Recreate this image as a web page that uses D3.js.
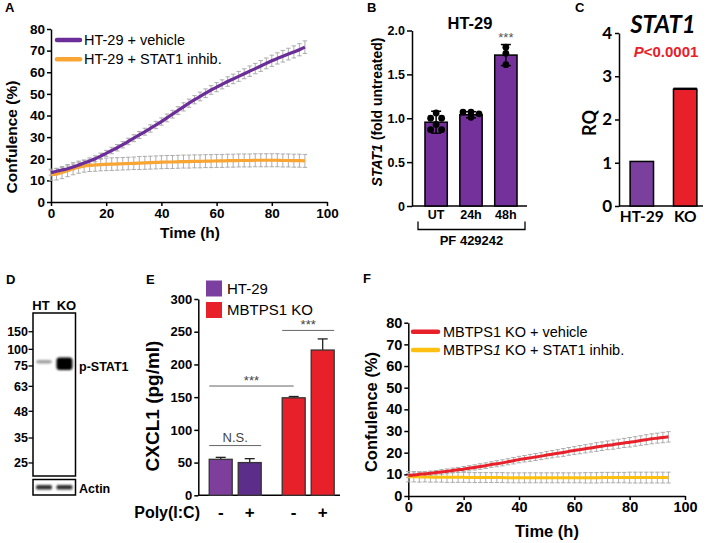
<!DOCTYPE html>
<html><head><meta charset="utf-8">
<script src="https://cdn.jsdelivr.net/npm/d3@7"></script>
<style>
body{margin:0;background:#fff;}
svg{display:block;font-family:"Liberation Sans",Arial,sans-serif;}
</style></head><body>
<svg id="fig" width="708" height="543"></svg>
<script>
// ---------- Panel A data ----------
const timeA = [0,2,4,6,8,10,12,14,16,18,20,22,24,26,28,30,32,34,36,38,40,42,44,46,48,50,52,54,56,58,60,62,64,66,68,70,72,74,76,78,80,82,84,86,88,90,92];
const vehicleA = [13.6,14.2,14.8,15.4,16.2,17.1,18.0,19.0,20.0,21.2,22.5,23.8,25.1,26.5,28.0,29.5,31.0,32.5,34.0,35.6,37.2,38.9,40.6,42.3,44.0,45.7,47.3,48.8,50.3,51.8,53.1,54.4,55.7,56.9,58.1,59.3,60.5,61.7,62.9,64.1,65.3,66.4,67.4,68.4,69.4,70.4,71.6];
const vehicleErrA = [1.2,1.2,1.2,1.3,1.3,1.3,1.3,1.4,1.4,1.4,1.4,1.5,1.5,1.5,1.5,1.6,1.6,1.6,1.7,1.7,1.7,1.8,1.8,1.8,1.9,1.9,1.9,2.0,2.0,2.0,2.1,2.1,2.2,2.2,2.3,2.3,2.4,2.4,2.5,2.5,2.6,2.6,2.7,2.7,2.8,2.8,2.9];
const inhibA = [12.6,12.9,13.6,14.5,15.4,16.1,16.6,16.9,17.1,17.3,17.4,17.5,17.6,17.7,17.8,17.9,18.0,18.1,18.2,18.3,18.4,18.5,18.5,18.6,18.7,18.7,18.8,18.8,18.9,18.9,19.0,19.0,19.1,19.1,19.2,19.2,19.2,19.3,19.3,19.3,19.3,19.3,19.2,19.2,19.1,19.1,19.0];
const inhibErrA = [2.6,2.7,2.8,2.8,2.8,2.8,2.8,2.8,2.9,2.9,2.9,2.9,2.9,2.9,2.9,2.9,3.0,3.0,3.0,3.0,3.0,3.0,3.0,3.0,3.0,3.0,3.0,3.0,3.0,3.0,3.0,3.0,3.0,3.0,3.0,3.0,3.0,3.0,3.0,3.0,3.0,3.0,3.0,3.0,3.0,3.0,3.0];
const seriesA = ["HT-29 + vehicle", "HT-29 + STAT1 inhib."];
const xTicksA = [0,20,40,60,80,100];
const yTicksA = [0,10,20,30,40,50,60,70,80];

// ---------- Panel B data ----------
const catsB = ["UT","24h","48h"];
const meanB = [0.955,1.04,1.72];
const sdB = [0.125,0.035,0.12];
const dotsB = [[1.06,1.0,1.0,0.93,0.87,0.87],[1.07,1.07,1.05,1.01],[1.81,1.74,1.61]];
const yTicksB = [0,0.5,1.0,1.5,2.0];

// ---------- Panel C data ----------
const catsC = ["HT-29","KO"];
const valC = [1.03,2.70];
const errC = [0,0.02];
const yTicksC = [0,1,2,3,4];

// ---------- Panel D data ----------
const lanesD = ["HT","KO"];
const markerKDa = [150,100,75,63,48,35,25];
const markerRf = [0.115,0.223,0.325,0.45,0.603,0.767,0.92];
const pSTAT1Intensity = [0.3,1.0];
const actinIntensity = [0.85,0.85];
const bandKDa = 78;

// ---------- Panel E data ----------
const groupsE = ["HT-29","MBTPS1 KO"];
const polyIC = ["-","+"];
const valE = [[55,50],[149,222]];
const errE = [[3,6],[2,17]];
const yTicksE = [0,50,100,150,200,250,300];

// ---------- Panel F data ----------
const timeF = [0,2,4,6,8,10,12,14,16,18,20,22,24,26,28,30,32,34,36,38,40,42,44,46,48,50,52,54,56,58,60,62,64,66,68,70,72,74,76,78,80,82,84,86,88,90,92,94];
const vehicleF = [9.5,9.7,10.0,10.2,10.5,10.8,11.1,11.4,11.8,12.1,12.4,12.8,13.2,13.6,14.0,14.5,14.9,15.3,15.8,16.3,16.8,17.2,17.6,18.0,18.4,18.9,19.3,19.7,20.1,20.6,21.0,21.4,21.8,22.2,22.6,23.0,23.4,23.7,24.1,24.5,24.8,25.2,25.6,26.0,26.4,26.7,27.0,27.3];
const vehicleErrF = [0.9,0.9,1.0,1.0,1.0,1.0,1.1,1.1,1.1,1.1,1.2,1.2,1.2,1.3,1.3,1.3,1.4,1.4,1.4,1.5,1.5,1.5,1.6,1.6,1.6,1.7,1.7,1.7,1.8,1.8,1.8,1.9,1.9,1.9,2.0,2.0,2.0,2.1,2.1,2.1,2.2,2.2,2.2,2.3,2.3,2.3,2.4,2.4];
const inhibF = [8.9,8.9,8.8,8.8,8.7,8.7,8.7,8.6,8.6,8.6,8.6,8.5,8.5,8.5,8.5,8.5,8.5,8.5,8.4,8.4,8.4,8.4,8.4,8.4,8.4,8.4,8.4,8.4,8.4,8.4,8.4,8.4,8.4,8.4,8.4,8.5,8.5,8.5,8.5,8.5,8.5,8.5,8.5,8.5,8.5,8.5,8.5,8.5];
const inhibErrF = [2.4,2.4,2.4,2.3,2.3,2.3,2.3,2.3,2.3,2.3,2.3,2.3,2.3,2.3,2.3,2.3,2.3,2.3,2.3,2.3,2.3,2.3,2.3,2.3,2.3,2.3,2.3,2.3,2.3,2.3,2.3,2.3,2.4,2.4,2.4,2.4,2.4,2.4,2.4,2.4,2.5,2.5,2.5,2.5,2.5,2.5,2.5,2.5];
const xTicksF = [0,20,40,60,80,100];
const yTicksF = [0,10,20,30,40,50,60,70,80];

// ---------- colours ----------
const PURPLE = "#6b2d98", ORANGE = "#f9a534", RED = "#e8202a", YELLOW = "#fdc010", GREY = "#a5a5a5";

const svg = d3.select("#fig");
const defs = svg.append("defs");
defs.append("filter").attr("id","blur").attr("x","-50%").attr("y","-100%").attr("width","200%").attr("height","300%")
  .append("feGaussianBlur").attr("stdDeviation",0.9);

function styleAxis(g, fs, family){
  g.select(".domain").attr("stroke","#000").attr("stroke-width",1.5);
  g.selectAll(".tick line").attr("stroke","#000").attr("stroke-width",1.5);
  g.selectAll(".tick text").attr("fill","#000").attr("font-size",fs).attr("font-weight","bold");
  if (family) g.selectAll(".tick text").attr("font-family",family);
}
function panelLabel(t,x,y){
  svg.append("text").attr("x",x).attr("y",y).attr("font-size",13).attr("font-weight","bold").text(t);
}
function errorBars(g, xs, ys, es, x, y, capW, color, sw){
  const gg = g.append("g").attr("stroke",color).attr("stroke-width",sw).attr("fill","none");
  xs.forEach((t,i)=>{
    const cx = x(t), y1 = y(ys[i]-es[i]), y2 = y(ys[i]+es[i]);
    gg.append("line").attr("x1",cx).attr("x2",cx).attr("y1",y1).attr("y2",y2);
    gg.append("line").attr("x1",cx-capW/2).attr("x2",cx+capW/2).attr("y1",y1).attr("y2",y1);
    gg.append("line").attr("x1",cx-capW/2).attr("x2",cx+capW/2).attr("y1",y2).attr("y2",y2);
  });
}

// ================= Panel A =================
(function(){
  const x = d3.scaleLinear().domain([0,100]).range([51,327]);
  const y = d3.scaleLinear().domain([0,80]).range([202,29]);
  const g = svg.append("g");
  g.append("g").attr("transform","translate(0,202)")
    .call(d3.axisBottom(x).tickValues(xTicksA).tickSize(4).tickSizeOuter(0).tickPadding(2))
    .call(a=>styleAxis(a,13.5));
  g.append("g").attr("transform","translate(51,0)")
    .call(d3.axisLeft(y).tickValues(yTicksA).tickSize(4).tickSizeOuter(0).tickPadding(2))
    .call(a=>styleAxis(a,13.5));
  errorBars(g, timeA, vehicleA, vehicleErrA, x, y, 4.5, GREY, 0.9);
  errorBars(g, timeA, inhibA, inhibErrA, x, y, 4.5, GREY, 0.9);
  const line = d3.line().x((d,i)=>x(timeA[i])).y(d=>y(d)).curve(d3.curveMonotoneX);
  g.append("path").datum(inhibA).attr("d",line).attr("fill","none").attr("stroke",ORANGE).attr("stroke-width",3.2);
  g.append("path").datum(vehicleA).attr("d",line).attr("fill","none").attr("stroke",PURPLE).attr("stroke-width",3.2);
  // legend
  const cols = [PURPLE, ORANGE];
  seriesA.forEach((s,i)=>{
    const ly = 40 + i*19.3;
    g.append("line").attr("x1",57).attr("x2",80).attr("y1",ly).attr("y2",ly).attr("stroke",cols[i]).attr("stroke-width",4.5).attr("stroke-linecap","round");
    g.append("text").attr("x",84).attr("y",ly+5).attr("font-size",14.5).text(s);
  });
  g.append("text").attr("transform","translate(17,137) rotate(-90)").attr("text-anchor","middle")
    .attr("font-size",15.5).attr("font-weight","bold").text("Confulence (%)");
  g.append("text").attr("x",190).attr("y",238).attr("text-anchor","middle").attr("font-size",15.5).attr("font-weight","bold").text("Time (h)");
  panelLabel("A",5,12);
})();

// ================= Panel B =================
(function(){
  const x = d3.scaleBand().domain(catsB).range([418,524]).paddingInner(0.36).paddingOuter(0.2);
  const y = d3.scaleLinear().domain([0,2]).range([206,30.5]);
  const g = svg.append("g");
  g.append("g").attr("transform","translate(412,0)")
    .call(d3.axisLeft(y).tickValues(yTicksB).tickSize(5).tickSizeOuter(0).tickPadding(2).tickFormat(d=>d===0?"0":d3.format(".1f")(d)))
    .call(a=>styleAxis(a,12.5));
  g.append("line").attr("x1",412).attr("x2",527).attr("y1",206).attr("y2",206).attr("stroke","#000").attr("stroke-width",1.5);
  g.selectAll("rect.bar").data(catsB).join("rect")
    .attr("x",d=>x(d)).attr("width",x.bandwidth()).attr("y",(d,i)=>y(meanB[i])).attr("height",(d,i)=>y(0)-y(meanB[i]))
    .attr("fill","#74309b").attr("stroke","#000").attr("stroke-width",1.5);
  // error bars
  catsB.forEach((c,i)=>{
    const cx = x(c)+x.bandwidth()/2;
    const y1 = y(meanB[i]-sdB[i]), y2 = y(meanB[i]+sdB[i]);
    g.append("line").attr("x1",cx).attr("x2",cx).attr("y1",y1).attr("y2",y2).attr("stroke","#000").attr("stroke-width",1.5);
    [y1,y2].forEach(yy=>g.append("line").attr("x1",cx-5).attr("x2",cx+5).attr("y1",yy).attr("y2",yy).attr("stroke","#000").attr("stroke-width",1.5));
    // dots with symmetric dodge for near-equal values
    const vals = dotsB[i].slice().sort((a,b)=>b-a);
    const clusters = [];
    vals.forEach(v=>{
      const last = clusters[clusters.length-1];
      if (last && Math.abs(last[last.length-1]-v) < 0.035) last.push(v); else clusters.push([v]);
    });
    clusters.forEach(cl=>{
      cl.forEach((v,k)=>{
        const off = (k-(cl.length-1)/2)*(cl.length>2?8:11);
        g.append("circle").attr("cx",cx+off).attr("cy",y(v)).attr("r",3.4).attr("fill","#000");
      });
    });
  });
  g.append("text").attr("x",x("48h")+x.bandwidth()/2).attr("y",42).attr("text-anchor","middle").attr("font-size",13).attr("fill","#555").text("***");
  g.selectAll("text.xl").data(catsB).join("text").attr("x",d=>x(d)+x.bandwidth()/2).attr("y",219)
    .attr("text-anchor","middle").attr("font-size",12.5).attr("font-weight","bold").text(d=>d);
  g.append("path").attr("d",`M418,221.5V229.5H525V221.5`).attr("fill","none").attr("stroke","#000").attr("stroke-width",1.3);
  g.append("text").attr("x",471.5).attr("y",245).attr("text-anchor","middle").attr("font-size",13).attr("font-weight","bold").text("PF 429242");
  g.append("text").attr("x",470).attr("y",29).attr("text-anchor","middle").attr("font-size",16.5).attr("font-weight","bold").text("HT-29");
  const yl = g.append("text").attr("transform","translate(382,112) rotate(-90)").attr("text-anchor","middle").attr("font-size",14).attr("font-weight","bold");
  yl.append("tspan").attr("font-style","italic").text("STAT1");
  yl.append("tspan").text(" (fold untreated)");
  panelLabel("B",367,12);
})();

// ================= Panel C =================
(function(){
  const FAM = "Lato, 'Liberation Sans', sans-serif";
  const x = d3.scaleBand().domain(catsC).range([621,706]).paddingInner(0.46).paddingOuter(0.21);
  const y = d3.scaleLinear().domain([0,4]).range([206,33]);
  const g = svg.append("g");
  g.append("g").attr("transform","translate(619,0)")
    .call(d3.axisLeft(y).tickValues(yTicksC).tickSize(4).tickSizeOuter(0).tickPadding(3).tickFormat(d3.format("d")))
    .call(a=>styleAxis(a,17,FAM));
  g.append("line").attr("x1",619).attr("x2",703).attr("y1",206).attr("y2",206).attr("stroke","#000").attr("stroke-width",1.5);
  const cols = ["#7b3f9e", RED];
  g.selectAll("rect").data(catsC).join("rect")
    .attr("x",d=>x(d)).attr("width",x.bandwidth()).attr("y",(d,i)=>y(valC[i])).attr("height",(d,i)=>y(0)-y(valC[i]))
    .attr("fill",(d,i)=>cols[i]).attr("stroke","#000").attr("stroke-width",1.5);
  catsC.forEach((c,i)=>{
    if (errC[i]>0){
      g.append("line").attr("x1",x(c)).attr("x2",x(c)+x.bandwidth()).attr("y1",y(valC[i]+errC[i])).attr("y2",y(valC[i]+errC[i])).attr("stroke","#000").attr("stroke-width",1.5);
    }
  });
  g.selectAll("text.xl").data(catsC).join("text").attr("x",d=>x(d)+x.bandwidth()/2).attr("y",222)
    .attr("text-anchor","middle").attr("font-size",15.5).attr("font-weight","bold").attr("font-family",FAM).text(d=>d);
  g.append("text").attr("transform","translate(596,123) rotate(-90)").attr("text-anchor","middle")
    .attr("font-size",18).attr("font-weight","bold").attr("font-family",FAM).text("RQ");
  g.append("text").attr("x",663).attr("y",33).attr("text-anchor","middle").attr("font-size",24).attr("font-weight","bold").attr("font-style","italic").attr("font-family",FAM).text("STAT1");
  const p = g.append("text").attr("x",666).attr("y",57).attr("text-anchor","middle").attr("font-size",15).attr("font-weight","bold").attr("fill",RED);
  p.append("tspan").attr("font-style","italic").text("P");
  p.append("tspan").text("<0.0001");
  panelLabel("C",575,12);
})();

// ================= Panel D =================
(function(){
  const g = svg.append("g");
  const x = d3.scaleBand().domain(lanesD).range([33,75.5]).paddingInner(0.12).paddingOuter(0.1);
  const yRf = d3.scaleLinear().domain([0,1]).range([313,476]);
  const yMW = d3.scaleLog().domain(markerKDa).range(markerRf.map(r=>yRf(r)));
  g.append("rect").attr("x",33).attr("y",313).attr("width",42.5).attr("height",163).attr("fill","#fff").attr("stroke","#000").attr("stroke-width",1.5);
  // p-STAT1 bands
  lanesD.forEach((l,i)=>{
    const h = 2.5 + 10*pSTAT1Intensity[i]*pSTAT1Intensity[i];
    g.append("rect").attr("x",x(l)+1).attr("width",x.bandwidth()-2).attr("y",yMW(bandKDa)-h/2 - (i===0?2:0)).attr("height",h)
      .attr("rx",3).attr("fill",d3.interpolateGreys(0.25+0.75*pSTAT1Intensity[i])).attr("filter","url(#blur)");
  });
  // markers
  markerKDa.forEach(k=>{
    g.append("line").attr("x1",28.5).attr("x2",33).attr("y1",yMW(k)).attr("y2",yMW(k)).attr("stroke","#000").attr("stroke-width",1.3);
    g.append("text").attr("x",28).attr("y",yMW(k)+4.3).attr("text-anchor","end").attr("font-size",12.5).attr("font-weight","bold").text(k);
  });
  lanesD.forEach((l,i)=>{
    g.append("text").attr("x",x(l)+x.bandwidth()/2+(i===0?-3:2)).attr("y",310).attr("text-anchor","middle").attr("font-size",13).attr("font-weight","bold").text(l);
  });
  g.append("text").attr("x",79).attr("y",371).attr("font-size",12.5).attr("font-weight","bold").text("p-STAT1");
  // actin
  g.append("rect").attr("x",33).attr("y",479.5).attr("width",42.5).attr("height",15.5).attr("fill","#fff").attr("stroke","#000").attr("stroke-width",1.5);
  lanesD.forEach((l,i)=>{
    g.append("rect").attr("x",x(l)+1).attr("width",x.bandwidth()-2).attr("y",485).attr("height",4.5).attr("rx",1.5)
      .attr("fill",d3.interpolateGreys(actinIntensity[i])).attr("filter","url(#blur)");
  });
  g.append("text").attr("x",79).attr("y",492.5).attr("font-size",12.5).attr("font-weight","bold").text("Actin");
  panelLabel("D",6,284);
})();

// ================= Panel E =================
(function(){
  const g = svg.append("g");
  const xo = d3.scaleBand().domain(groupsE).range([206.3,337.1]).paddingInner(0.2877).paddingOuter(0.04);
  const xi = d3.scaleBand().domain(polyIC).range([0,xo.bandwidth()]).paddingInner(0.207);
  const y = d3.scaleLinear().domain([0,300]).range([495.3,299]);
  g.append("g").attr("transform","translate(198.3,0)")
    .call(d3.axisLeft(y).tickValues(yTicksE).tickSize(4).tickSizeOuter(0).tickPadding(2))
    .call(a=>styleAxis(a,13));
  g.append("line").attr("x1",198.3).attr("x2",340).attr("y1",495.3).attr("y2",495.3).attr("stroke","#000").attr("stroke-width",1.5);
  const fills = [["#7d3f9b","#5c2d8a"],[RED,RED]];
  const bx = (gi,pi)=>xo(groupsE[gi])+xi(polyIC[pi]);
  groupsE.forEach((gr,gi)=>polyIC.forEach((p,pi)=>{
    const v = valE[gi][pi], e = errE[gi][pi];
    const cx = bx(gi,pi)+xi.bandwidth()/2;
    g.append("line").attr("x1",cx).attr("x2",cx).attr("y1",y(v)).attr("y2",y(v+e)).attr("stroke","#222").attr("stroke-width",1.3);
    g.append("line").attr("x1",cx-5).attr("x2",cx+5).attr("y1",y(v+e)).attr("y2",y(v+e)).attr("stroke","#222").attr("stroke-width",1.3);
    g.append("rect").attr("x",bx(gi,pi)).attr("width",xi.bandwidth()).attr("y",y(v)).attr("height",y(0)-y(v))
      .attr("fill",fills[gi][pi]).attr("stroke","#333").attr("stroke-width",1.3);
    g.append("text").attr("x",cx).attr("y",518).attr("text-anchor","middle").attr("font-size",17).attr("font-weight","bold").text(p);
  }));
  // significance
  const sig = [
    {x1:bx(0,0), x2:bx(0,1)+xi.bandwidth(), level:76, label:"N.S."},
    {x1:bx(0,0), x2:bx(1,0)+xi.bandwidth()/2, level:167, label:"***"},
    {x1:bx(1,0), x2:bx(1,1)+xi.bandwidth(), level:252, label:"***"}
  ];
  sig.forEach(s=>{
    g.append("line").attr("x1",s.x1).attr("x2",s.x2).attr("y1",y(s.level)).attr("y2",y(s.level)).attr("stroke","#666").attr("stroke-width",1);
    g.append("text").attr("x",(s.x1+s.x2)/2).attr("y",y(s.level)-(s.label==="***"?1:3.5)).attr("text-anchor","middle")
      .attr("font-size",13).attr("fill","#444").text(s.label);
  });
  // legend
  const lc = ["#7b3fa0", RED];
  groupsE.forEach((gr,i)=>{
    g.append("rect").attr("x",206).attr("y",280.5+i*21.5).attr("width",16).attr("height",16).attr("fill",lc[i]);
    g.append("text").attr("x",227).attr("y",293.5+i*21.5).attr("font-size",15).text(gr);
  });
  g.append("text").attr("x",200).attr("y",518).attr("text-anchor","end").attr("font-size",16).attr("font-weight","bold").text("Poly(I:C)");
  g.append("text").attr("transform","translate(159,406) rotate(-90)").attr("text-anchor","middle").attr("font-size",19).attr("font-weight","bold").text("CXCL1 (pg/ml)");
  panelLabel("E",146,284);
})();

// ================= Panel F =================
(function(){
  const x = d3.scaleLinear().domain([0,100]).range([408.3,685]);
  const y = d3.scaleLinear().domain([0,80]).range([496,322.7]);
  const g = svg.append("g");
  g.append("g").attr("transform","translate(0,496)")
    .call(d3.axisBottom(x).tickValues(xTicksF).tickSize(4).tickSizeOuter(0).tickPadding(2))
    .call(a=>styleAxis(a,14.5));
  g.append("g").attr("transform","translate(408.3,0)")
    .call(d3.axisLeft(y).tickValues(yTicksF).tickSize(4).tickSizeOuter(0).tickPadding(2))
    .call(a=>styleAxis(a,14.5));
  errorBars(g, timeF, vehicleF, vehicleErrF, x, y, 4.5, GREY, 0.9);
  errorBars(g, timeF, inhibF, inhibErrF, x, y, 4.5, GREY, 0.9);
  const line = d3.line().x((d,i)=>x(timeF[i])).y(d=>y(d)).curve(d3.curveMonotoneX);
  g.append("path").datum(inhibF).attr("d",line).attr("fill","none").attr("stroke",YELLOW).attr("stroke-width",3);
  g.append("path").datum(vehicleF).attr("d",line).attr("fill","none").attr("stroke",RED).attr("stroke-width",3);
  const cols = [RED, YELLOW];
  [0,1].forEach(i=>{
    const ly = 331.7 + i*18.3;
    g.append("line").attr("x1",413).attr("x2",438).attr("y1",ly).attr("y2",ly).attr("stroke",cols[i]).attr("stroke-width",4.5).attr("stroke-linecap","round");
    const t = g.append("text").attr("x",443).attr("y",ly+5).attr("font-size",14.5);
    if (i===0) t.text("MBTPS1 KO + vehicle");
    else { t.append("tspan").text("MBTPS"); t.append("tspan").attr("font-style","italic").text("1"); t.append("tspan").text(" KO + STAT1 inhib."); }
  });
  g.append("text").attr("transform","translate(377,412) rotate(-90)").attr("text-anchor","middle").attr("font-size",16.5).attr("font-weight","bold").text("Confulence (%)");
  g.append("text").attr("x",547).attr("y",537).attr("text-anchor","middle").attr("font-size",16.5).attr("font-weight","bold").text("Time (h)");
  panelLabel("F",363,283);
})();
</script>
</body></html>
